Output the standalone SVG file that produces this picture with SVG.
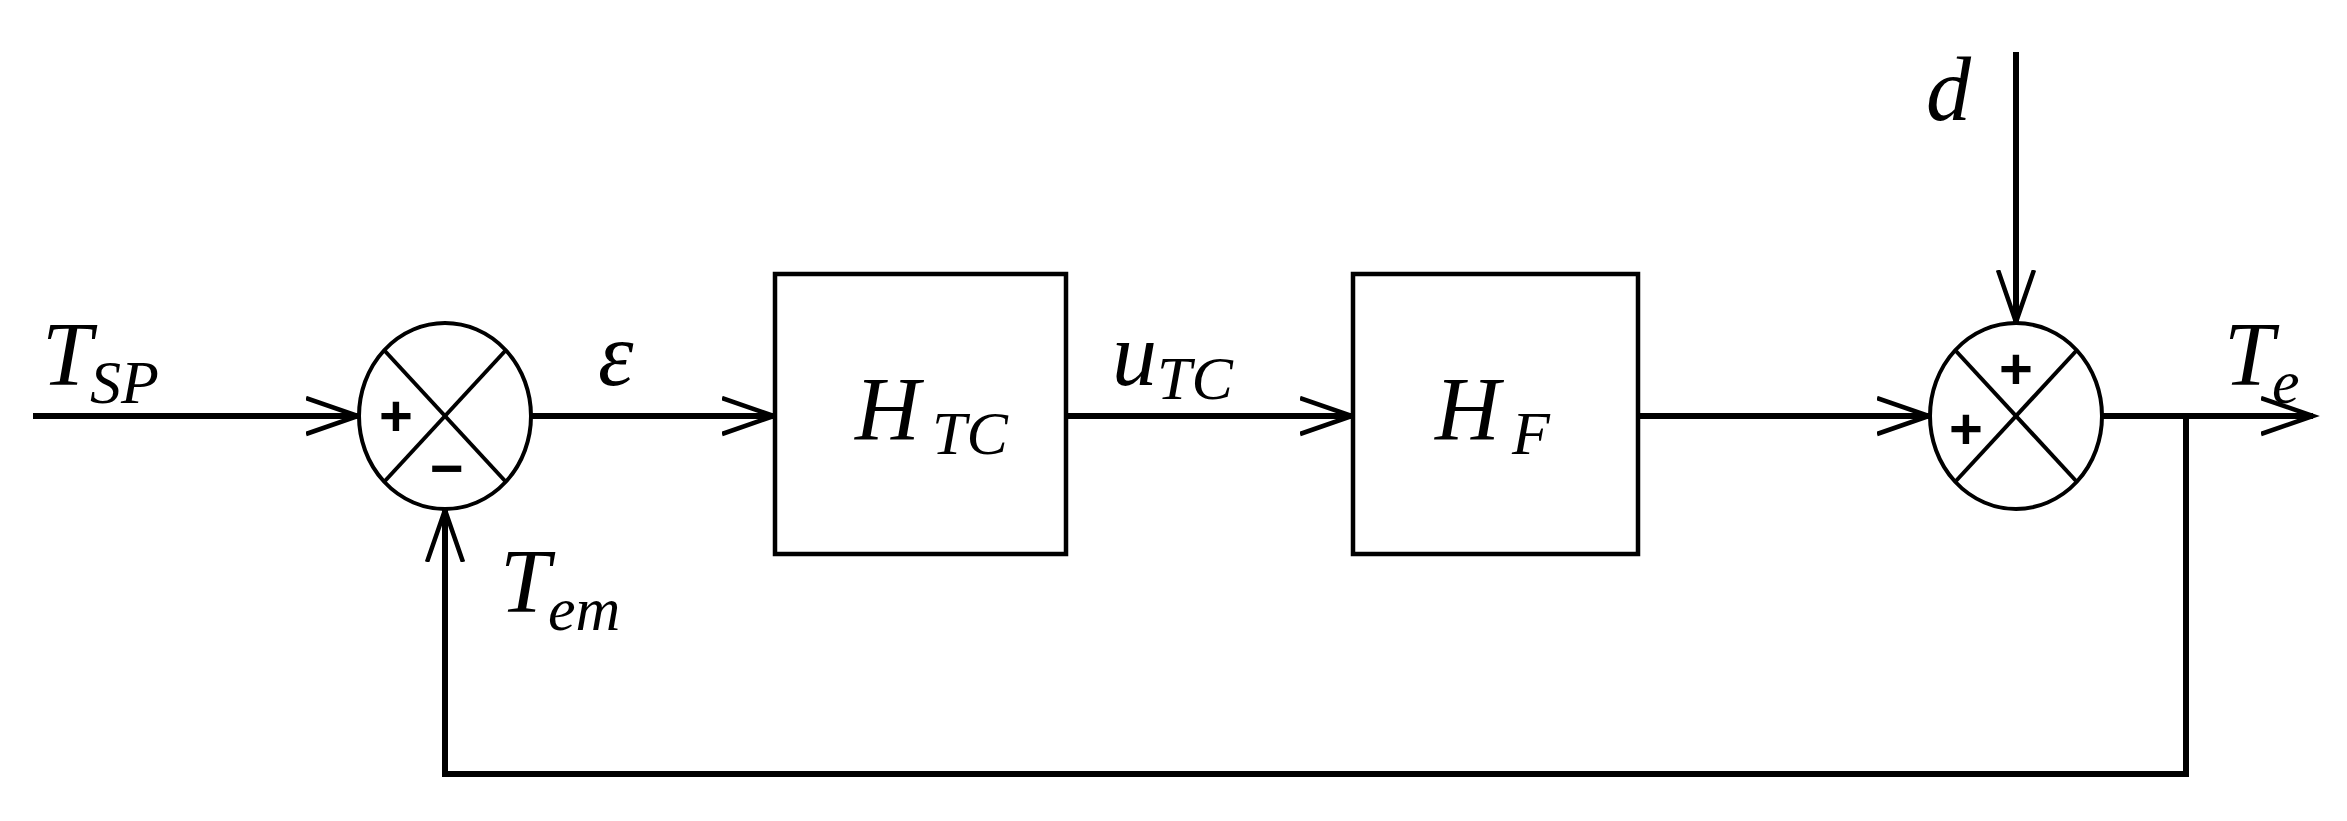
<svg xmlns="http://www.w3.org/2000/svg" width="2347" height="821" viewBox="0 0 2347 821">
<style>
.w{stroke:#000;stroke-width:6;fill:none}
.b{stroke:#000;stroke-width:4.5;fill:#fff}
.s{stroke:#000;stroke-width:4;fill:#fff}
.t{font-family:"Liberation Serif",serif;font-style:italic;font-size:90px;fill:#000}
.sub{font-size:62px}
.sg{font-family:"Liberation Sans",sans-serif;font-size:58px;font-weight:bold;fill:#000;text-anchor:middle}
</style>
<defs>
<marker id="a" markerUnits="userSpaceOnUse" markerWidth="60" markerHeight="50" refX="52" refY="20" orient="auto">
<path d="M0,2 L52,20 L0,38" fill="none" stroke="#000" stroke-width="4.5"/>
</marker>
</defs>
<rect width="2347" height="821" fill="#fff"/>
<g id="connectors">
<line class="w" x1="33" y1="416" x2="358" y2="416" marker-end="url(#a)"/>
<line class="w" x1="531" y1="416" x2="774" y2="416" marker-end="url(#a)"/>
<line class="w" x1="1066" y1="416" x2="1352" y2="416" marker-end="url(#a)"/>
<line class="w" x1="1638" y1="416" x2="1929" y2="416" marker-end="url(#a)"/>
<line class="w" x1="2016" y1="52" x2="2016" y2="322" marker-end="url(#a)"/>
<line class="w" x1="2102" y1="416" x2="2313" y2="416" marker-end="url(#a)"/>
<polyline class="w" points="2186,416 2186,774 445,774 445,510" marker-end="url(#a)"/>
</g>
<g id="sum1">
<ellipse class="s" cx="445" cy="416" rx="86" ry="93"/>
<line class="s" x1="384" y1="350" x2="506" y2="482"/>
<line class="s" x1="506" y1="350" x2="384" y2="482"/>
<text class="sg" x="396" y="436">+</text>
<text class="sg" x="447" y="488">−</text>
</g>
<g id="htc">
<rect class="b" x="775" y="274" width="291" height="280"/>
<text class="t" x="855" y="440">H<tspan class="sub" dx="12" dy="14">TC</tspan></text>
</g>
<g id="hf">
<rect class="b" x="1353" y="274" width="285" height="280"/>
<text class="t" x="1435" y="440">H<tspan class="sub" dx="12" dy="14">F</tspan></text>
</g>
<g id="sum2">
<ellipse class="s" cx="2016" cy="416" rx="86" ry="93"/>
<line class="s" x1="1955" y1="350" x2="2077" y2="482"/>
<line class="s" x1="2077" y1="350" x2="1955" y2="482"/>
<text class="sg" x="2016" y="389">+</text>
<text class="sg" x="1966" y="449">+</text>
</g>
<g id="labels">
<text class="t" x="42" y="385">T<tspan class="sub" dx="-2" dy="18">SP</tspan></text>
<text class="t" x="598" y="385">ε</text>
<text class="t" x="1112" y="385">u<tspan class="sub" dy="14">TC</tspan></text>
<text class="t" x="1926" y="120">d</text>
<text class="t" x="2224" y="385">T<tspan class="sub" dx="-2" dy="18">e</tspan></text>
<text class="t" x="500" y="612">T<tspan class="sub" dx="-2" dy="18">em</tspan></text>
</g>
</svg>
